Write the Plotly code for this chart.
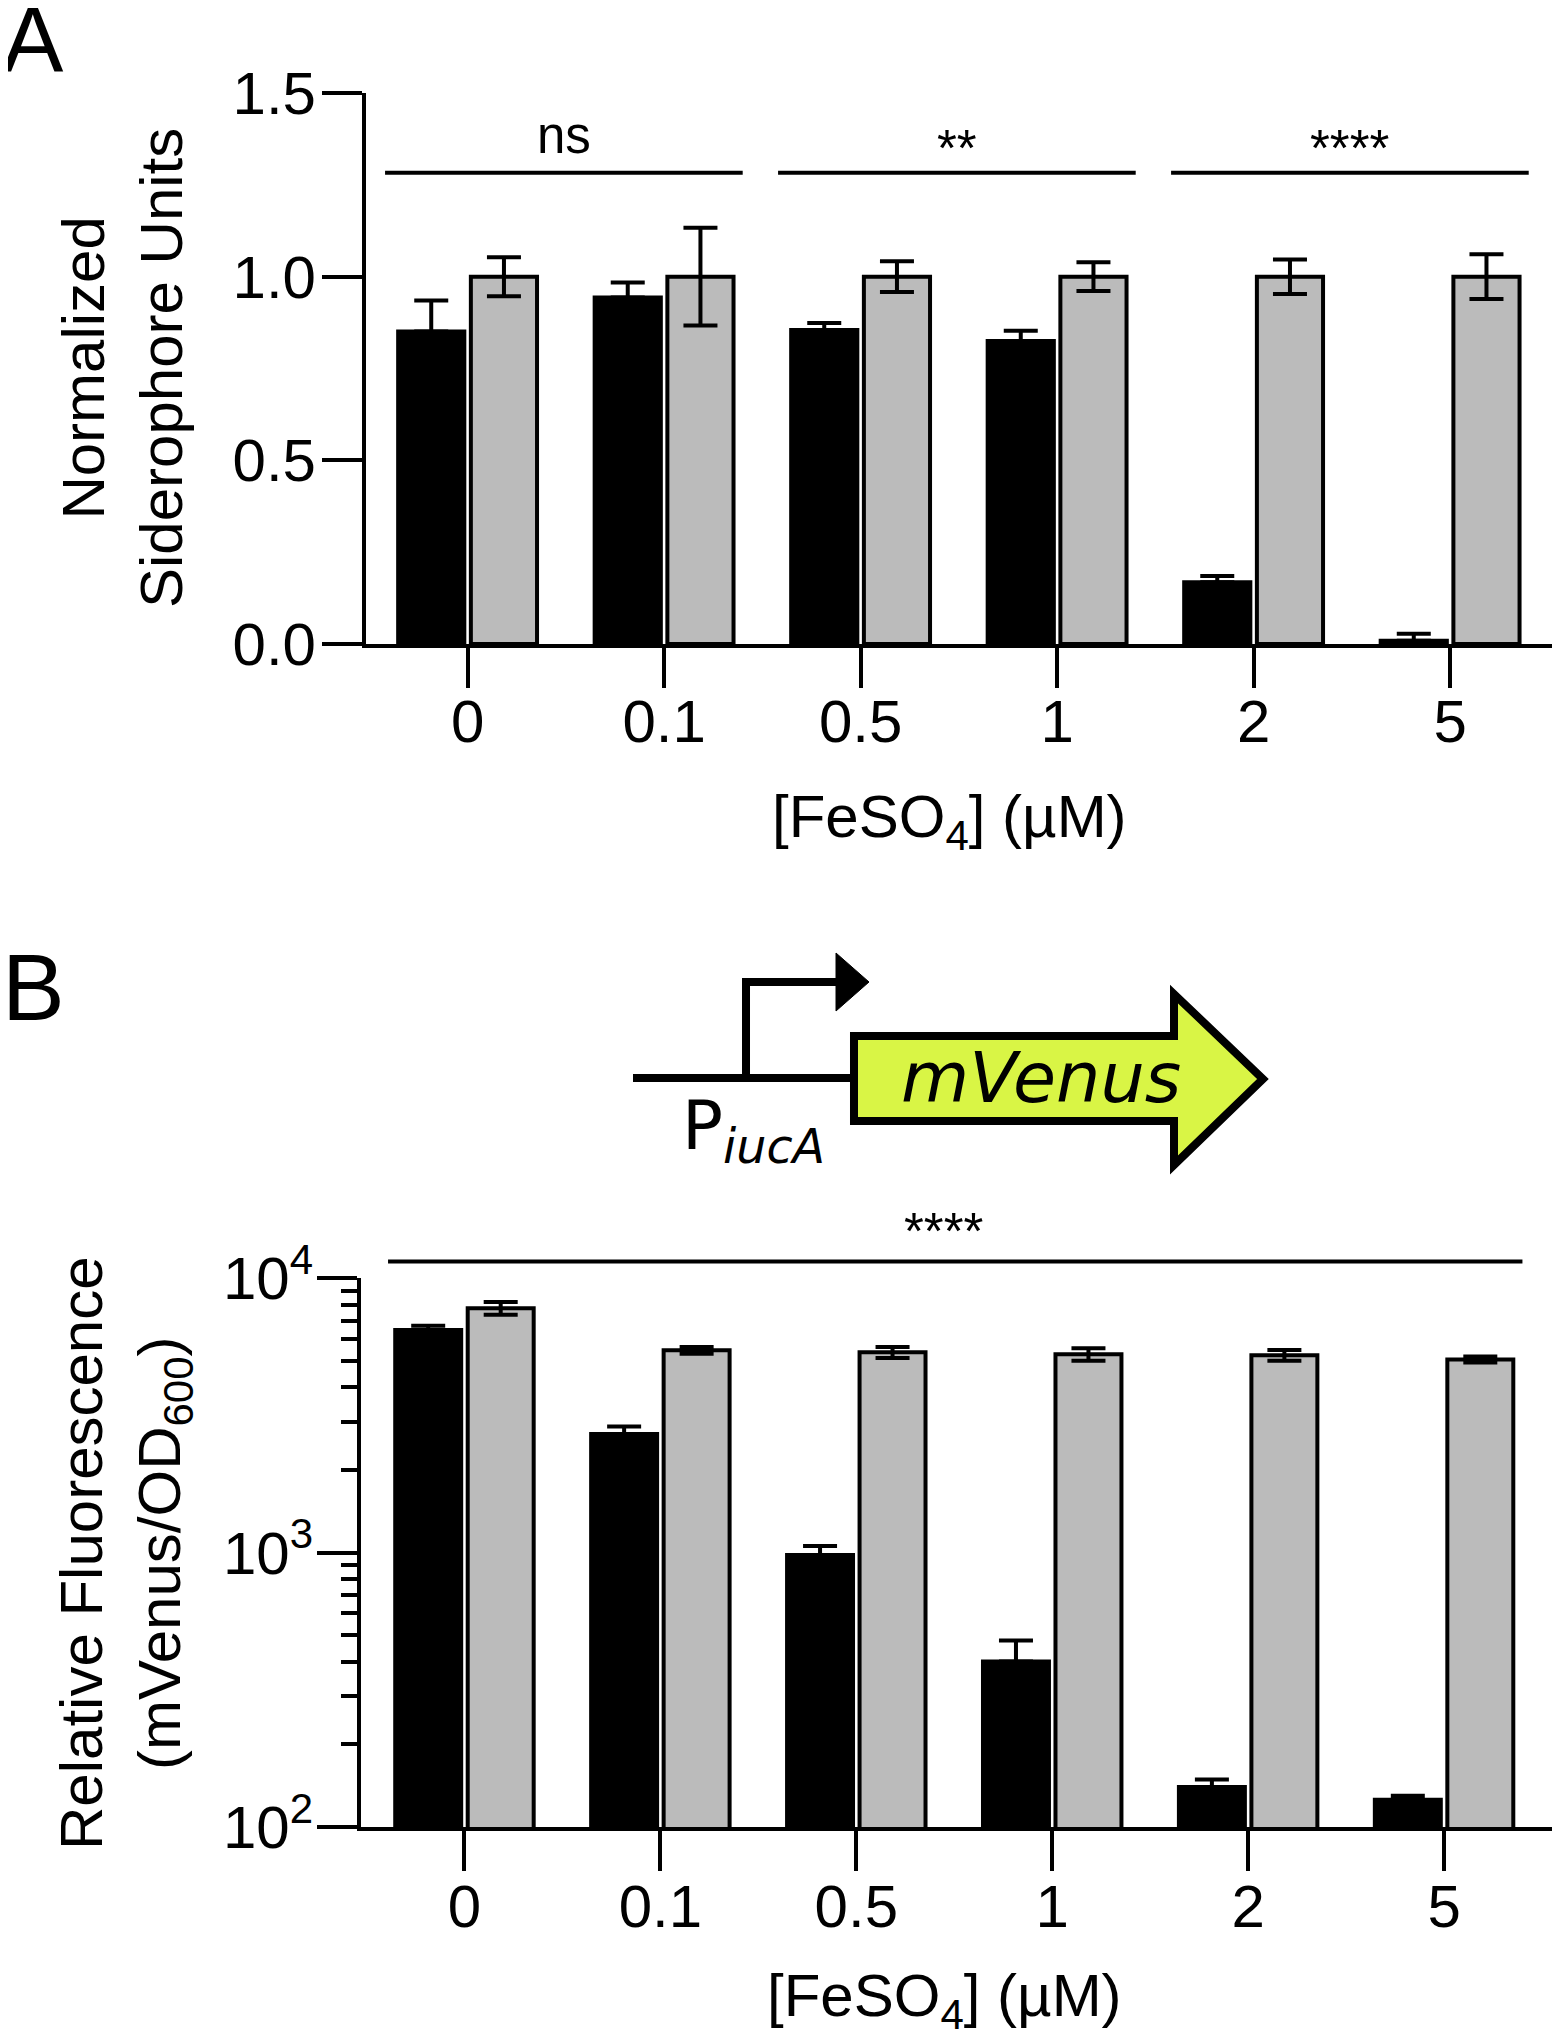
import plotly.graph_objects as go

# ---------------- data ----------------
fe_conc = ["0", "0.1", "0.5", "1", "2", "5"]

# Panel A: normalized siderophore units
sid_black = [0.851, 0.943, 0.855, 0.825, 0.168, 0.009]
sid_black_err = [0.084, 0.041, 0.019, 0.028, 0.017, 0.019]
sid_gray = [1.0, 1.0, 1.0, 1.0, 1.0, 1.0]
sid_gray_err = [0.053, 0.133, 0.042, 0.039, 0.047, 0.061]

# significance groups for panel A: (first category index, last category index, label)
sig_a = [(0, 1, "ns"), (2, 3, "**"), (4, 5, "****")]

# Panel B: relative fluorescence (mVenus/OD600)
fl_black = [6470, 2700, 980, 401, 140, 125.6]
fl_black_err = [230, 180, 77, 77, 9, 4.5]
fl_gray = [7760, 5450, 5360, 5270, 5230, 5050]
fl_gray_err = [420, 150, 250, 275, 240, 130]

log_ticks = [100, 1000, 10000]
log_ticktext = ["10<sup>2</sup>", "10<sup>3</sup>", "10<sup>4</sup>"]

# the page body has an 8px margin: draw the figure smaller and map
# reference pixel positions accordingly
OFF = 8
W, H = 1560 - OFF, 2039 - 2 * OFF
BLACK = "#000000"
GRAY = "#bbbbbb"
FONT = "Liberation Sans"
FS = 60

def px(x):
    return min(1.0, (x - OFF) / W)

def py(y):
    return 1 - (y - OFF) / H

fig = go.Figure()

zeros = [0] * len(fe_conc)

# Panel A bars
fig.add_trace(go.Bar(
    x=fe_conc, y=sid_black, xaxis="x", yaxis="y",
    marker=dict(color=BLACK, line=dict(color=BLACK, width=4)),
    error_y=dict(type="data", symmetric=False, array=sid_black_err, arrayminus=zeros,
                 color=BLACK, thickness=4, width=17),
))
fig.add_trace(go.Bar(
    x=fe_conc, y=sid_gray, xaxis="x", yaxis="y",
    marker=dict(color=GRAY, line=dict(color=BLACK, width=4)),
    error_y=dict(type="data", symmetric=True, array=sid_gray_err,
                 color=BLACK, thickness=4, width=17),
))

# Panel B bars
fig.add_trace(go.Bar(
    x=fe_conc, y=fl_black, xaxis="x2", yaxis="y2",
    marker=dict(color=BLACK, line=dict(color=BLACK, width=4)),
    error_y=dict(type="data", symmetric=False, array=fl_black_err, arrayminus=zeros,
                 color=BLACK, thickness=4, width=17),
))
fig.add_trace(go.Bar(
    x=fe_conc, y=fl_gray, xaxis="x2", yaxis="y2",
    marker=dict(color=GRAY, line=dict(color=BLACK, width=4)),
    error_y=dict(type="data", symmetric=True, array=fl_gray_err,
                 color=BLACK, thickness=4, width=17),
))

axis_common = dict(
    showline=True, linewidth=4, linecolor=BLACK,
    ticks="outside", ticklen=40, tickwidth=4, tickcolor=BLACK,
    showgrid=False, zeroline=False, automargin=False,
    tickfont=dict(family=FONT, size=FS, color=BLACK),
)

fig.update_layout(
    template="none",
    width=W, height=H, autosize=False,
    margin=dict(l=0, r=0, t=0, b=0, pad=0),
    paper_bgcolor="white", plot_bgcolor="white",
    showlegend=False,
    barmode="group", bargap=0.26, bargroupgap=0.09,
    font=dict(family=FONT, color=BLACK),
    xaxis=dict(domain=[px(366), px(1558)], anchor="y", type="category",
               range=[-0.517, 5.549], ticklabelstandoff=-18, **axis_common),
    yaxis=dict(domain=[py(644), py(93)], anchor="x", range=[0, 1.5],
               tick0=0, dtick=0.5, tickformat=".1f", ticklabelstandoff=-6,
               **axis_common),
    xaxis2=dict(domain=[px(361), px(1553)], anchor="y2", type="category",
                range=[-0.528, 5.556], ticklabelstandoff=-16, **axis_common),
    yaxis2=dict(domain=[py(1827), py(1278)], anchor="x2", type="log",
                range=[2, 4], tickvals=log_ticks, ticktext=log_ticktext,
                ticklabelstandoff=-8,
                minor=dict(ticks="outside", ticklen=16, tickwidth=4, tickcolor=BLACK,
                           tickvals=[m * 10 ** e for e in (2, 3) for m in range(2, 10)]),
                **axis_common),
)

shapes = []
annotations = []

# significance bars panel A
for i0, i1, lab in sig_a:
    xa0, xa1 = i0 - 0.42, i1 + 0.40
    shapes.append(dict(type="line", xref="x", yref="y", x0=xa0, x1=xa1, y0=1.283, y1=1.283,
                       line=dict(color=BLACK, width=4)))
    annotations.append(dict(xref="x", yref="y", x=(xa0 + xa1) / 2,
                            y=1.30 if lab == "ns" else 1.267,
                            text=lab, showarrow=False, yanchor="bottom",
                            font=dict(family=FONT, size=51, color=BLACK)))

# significance bar panel B (spans all groups)
shapes.append(dict(type="line", xref="x2", yref="y2 domain", x0=-0.39, x1=5.40,
                   y0=1.030, y1=1.030, line=dict(color=BLACK, width=4)))
annotations.append(dict(xref="x2", yref="y2 domain", x=2.45, y=1.029, yanchor="bottom",
                        text="****", showarrow=False,
                        font=dict(family=FONT, size=51, color=BLACK)))

# axis titles
annotations += [
    dict(xref="paper", yref="paper", x=px(122), y=py(368), textangle=-90,
         text="Normalized<br>Siderophore Units", showarrow=False,
         xanchor="center", yanchor="middle", font=dict(family=FONT, size=FS)),
    dict(xref="paper", yref="paper", x=px(125), y=py(1553), textangle=-90,
         text="Relative Fluorescence<br>(mVenus/OD<sub>600</sub>)", showarrow=False,
         xanchor="center", yanchor="middle", font=dict(family=FONT, size=FS)),
    dict(xref="paper", yref="paper", x=px(950), y=py(821),
         text="[FeSO<sub>4</sub>] (µM)", showarrow=False,
         xanchor="center", yanchor="middle", font=dict(family=FONT, size=FS)),
    dict(xref="paper", yref="paper", x=px(944), y=py(2000),
         text="[FeSO<sub>4</sub>] (µM)", showarrow=False,
         xanchor="center", yanchor="middle", font=dict(family=FONT, size=FS)),
    dict(xref="paper", yref="paper", x=px(0), y=py(40), text="A", showarrow=False,
         xanchor="left", yanchor="middle", font=dict(family=FONT, size=92)),
    dict(xref="paper", yref="paper", x=px(0), y=py(987), text="B", showarrow=False,
         xanchor="left", yanchor="middle", font=dict(family=FONT, size=94)),
]

# ---------------- gene diagram (panel B) ----------------
def path(points, close=False):
    s = "M " + " L ".join(f"{px(x):.5f},{py(y):.5f}" for x, y in points)
    return s + (" Z" if close else "")

# backbone
shapes.append(dict(type="line", xref="paper", yref="paper",
                   x0=px(633), x1=px(856), y0=py(1078), y1=py(1078),
                   line=dict(color=BLACK, width=8)))
# promoter bent arrow
shapes.append(dict(type="path", xref="paper", yref="paper",
                   path=path([(746, 1078), (746, 982), (842, 982)]),
                   line=dict(color=BLACK, width=8)))
shapes.append(dict(type="path", xref="paper", yref="paper",
                   path=path([(836, 953), (869, 982), (836, 1011)], close=True),
                   fillcolor=BLACK, line=dict(color=BLACK, width=1)))
# mVenus CDS arrow
shapes.append(dict(type="path", xref="paper", yref="paper",
                   path=path([(854, 1036), (1174, 1036), (1174, 994), (1263, 1079),
                              (1174, 1165), (1174, 1121), (854, 1121)], close=True),
                   fillcolor="#d9f545", line=dict(color=BLACK, width=8)))

annotations += [
    dict(xref="paper", yref="paper", x=px(1041), y=py(1078), text="<i>mVenus</i>",
         showarrow=False, xanchor="center", yanchor="middle",
         font=dict(family="DejaVu Sans", size=70, color=BLACK)),
    dict(xref="paper", yref="paper", x=px(680), y=py(1130), text="P<sub><i>iucA</i></sub>",
         showarrow=False, xanchor="left", yanchor="middle",
         font=dict(family="DejaVu Sans", size=68, color=BLACK)),
]

fig.update_layout(shapes=shapes, annotations=annotations)
fig.write_html("out.html")
